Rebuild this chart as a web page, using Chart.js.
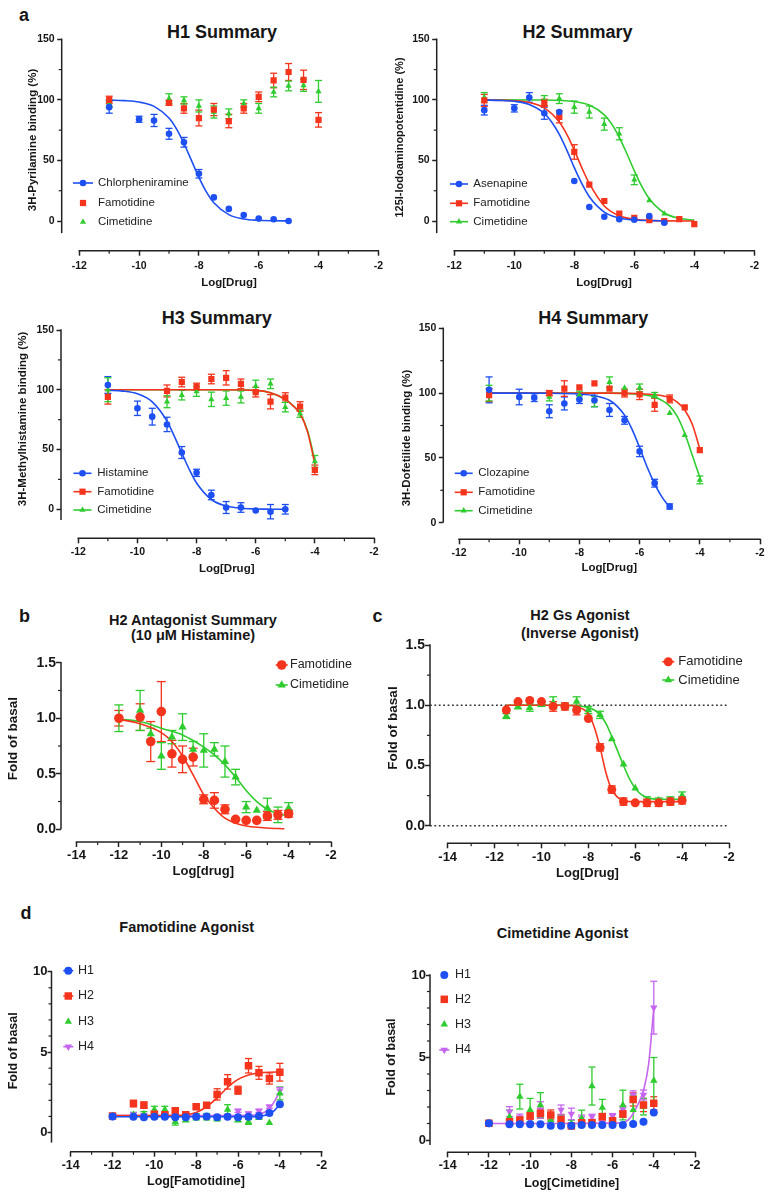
<!DOCTYPE html>
<html>
<head>
<meta charset="utf-8">
<script src="https://cdn.jsdelivr.net/npm/chart.js@4.4.1/dist/chart.umd.min.js"></script>
<style>
  body { margin: 0; background: #fff; overflow: hidden; }
  #page { position: relative; width: 770px; height: 1199px; font-family: Arial, "Liberation Sans", Helvetica, sans-serif; }
  #page canvas { position: absolute; }
  .txt { position: absolute; font-weight: bold; color: #161616; text-align: center; white-space: pre; transform: translate(-50%, -50%); }
</style>
</head>
<body>
<div id="page"></div>
<script>
const FONT = 'Arial, "Liberation Sans", Helvetica, sans-serif';
const BLUE = '#1d4ff2', RED = '#f4341c', GREEN = '#2fcc2f', PURPLE = '#c665ef', AXIS = '#222';

// tick values
const hXTicks = [-12, -10, -8, -6, -4, -2];
const hXMinor = [-11, -9, -7, -5, -3];
const hYTicks = [0, 50, 100, 150];
const hYMinor = [25, 75, 125];
const wXTicks = [-14, -12, -10, -8, -6, -4, -2];
const wXMinor = [-13, -11, -9, -7, -5, -3];
const fYTicks = [0, 0.5, 1, 1.5];
const fYMinor = [0.25, 0.75, 1.25];
const dYTicks = [0, 5, 10];
const dYMinor = [1, 2, 3, 4, 6, 7, 8, 9];
const cRefLevels = [1, 0];

// a - H1
const h1ChlorX = [-11, -10, -9.5, -9, -8.5, -8, -7.5, -7, -6.5, -6, -5.5, -5];
const h1ChlorY = [94, 84, 83, 72, 65, 39, 19.5, 10, 5, 2, 1.5, 0];
const h1ChlorErr = [5, 2.5, 5, 4.5, 4, 3.5, 0, 0, 0, 0, 0, 0];
const h1ChlorFitX = [-11, -10.5, -10, -9.5, -9, -8.75, -8.5, -8.25, -8, -7.75, -7.5, -7, -6.5, -6, -5.5, -5];
const h1ChlorFitY = [99.8, 99.4, 98.2, 94.6, 85, 76, 64, 50, 36, 24, 15, 5.3, 1.7, 0.6, 0.2, 0.1];
const h1AntX = [-11, -9, -8.5, -8, -7.5, -7, -6.5, -6, -5.5, -5, -4.5, -4];
const h1FamoY = [100, 97.5, 93, 85, 92, 82.5, 93, 102.5, 116, 123, 116.5, 83.5];
const h1FamoErr = [3, 2, 4, 6.5, 5, 5.5, 4, 4, 6, 7, 8, 6];
const h1CimeY = [97, 101, 99.5, 95, 90, 88.5, 97, 93, 106.5, 111.5, 112, 107];
const h1CimeErr = [3, 4, 3, 5, 5, 4, 3, 4, 4, 4, 5, 9];

// a - H2
const h2AsenX = [-11, -10, -9.5, -9, -8.5, -8, -7.5, -7, -6.5, -6, -5.5, -5];
const h2AsenY = [91.5, 93, 102, 89, 90, 33, 11.5, 3.5, 1.5, 1, 4, -1.5];
const h2AsenErr = [4, 3, 4, 5, 0, 0, 0, 0, 0, 0, 0, 0];
const h2AsenFitX = [-11, -10.5, -10, -9.5, -9, -8.75, -8.5, -8.25, -8, -7.75, -7.5, -7, -6.5, -6, -5.5, -5];
const h2AsenFitY = [99.9, 99.6, 98.8, 96.2, 88.8, 81.5, 71.5, 58.5, 44, 30.9, 20, 7.4, 2.5, 0.8, 0.3, 0.1];
const h2FamoX = [-11, -9, -8.5, -8, -7.5, -7, -6.5, -6, -5.5, -5, -4.5, -4];
const h2FamoY = [99.5, 97.5, 86, 57, 30, 16.5, 6, 2.5, 0.8, 0, 1.6, -2.5];
const h2FamoErr = [5, 3, 5, 6, 0, 0, 0, 0, 0, 0, 0, 0];
const h2FamoFitX = [-11, -10, -9.5, -9, -8.5, -8.25, -8, -7.75, -7.5, -7, -6.5, -6, -5, -4];
const h2FamoFitY = [99.9, 99.3, 97.8, 93.4, 81.7, 71.5, 58.5, 44, 31, 12.4, 4.3, 1.4, 0.1, 0];
const h2CimeX = [-11, -9, -8.5, -8, -7.5, -7, -6.5, -6, -5.5, -5];
const h2CimeY = [102, 99.5, 101, 94, 90, 80, 72, 34, 17, 6];
const h2CimeErr = [4, 4, 4, 5, 5, 5, 5, 4, 0, 0];
const h2CimeFitX = [-11, -9, -8, -7.5, -7, -6.75, -6.5, -6.25, -6, -5.75, -5.5, -5, -4.5, -4];
const h2CimeFitY = [100, 99.9, 98.6, 95.7, 87.6, 80, 69, 55.7, 41.5, 28.5, 18.3, 6.6, 2.2, 0.7];

// a - H3
const h3HistX = [-11, -10, -9.5, -9, -8.5, -8, -7.5, -7, -6.5, -6, -5.5, -5];
const h3HistY = [104, 84.5, 77.5, 71, 47.5, 30.5, 12, 1.5, 1.5, -1, -2, 0];
const h3HistErr = [7, 6, 7, 6, 5, 3, 4, 5, 4, 0, 6, 4];
const h3HistFitX = [-11, -10.5, -10, -9.5, -9, -8.75, -8.5, -8.25, -8, -7.5, -7, -6.5, -6, -5.5, -5];
const h3HistFitY = [99.6, 98.9, 96.6, 89.9, 73.8, 61, 47, 33.5, 22, 8.2, 2.7, 0.9, 0.3, 0.1, 0];
const h3AntX = [-11, -9, -8.5, -8, -7.5, -7, -6.5, -6, -5.5, -5, -4.5, -4];
const h3FamoY = [94, 99, 106.5, 102.5, 109, 110, 105, 98, 90, 93.5, 86, 33];
const h3FamoErr = [6, 5, 4, 3, 4, 6, 4, 4, 6, 4, 4, 4];
const h3CimeY = [100, 90, 95.5, 98.5, 92, 93, 94, 103, 105, 85.5, 80, 40];
const h3CimeErr = [10, 5, 4, 4, 6, 6, 5, 5, 4, 4, 3, 5];
const h3AntFitX = [-11, -10, -9, -8, -7, -6, -5.5, -5, -4.75, -4.5, -4.25, -4];
const h3FamoFitY = [100, 100, 100, 100, 100, 99.5, 97.5, 92, 87, 80, 65, 38];
const h3CimeFitY = [100, 100, 100, 100, 100, 99.5, 97.5, 92, 87, 80, 66, 41];

// a - H4
const h4ClozX = [-11, -10, -9.5, -9, -8.5, -8, -7.5, -7, -6.5, -6, -5.5, -5];
const h4ClozY = [102.5, 97, 96.5, 86, 92, 95, 94.5, 87, 79, 55, 30.5, 12.5];
const h4ClozErr = [10, 6, 3, 5, 5, 3, 5, 5, 3, 4, 3, 2];
const h4ClozFitX = [-11, -10, -9, -8, -7.5, -7, -6.75, -6.5, -6.25, -6, -5.75, -5.5, -5.25, -5];
const h4ClozFitY = [100, 100, 99.9, 99.2, 98, 94.5, 90, 83, 72, 58, 43, 30, 19.5, 12];
const h4FamoX = [-11, -9, -8.5, -8, -7.5, -7, -6.5, -6, -5.5, -5, -4.5, -4];
const h4FamoY = [98.5, 100, 103.5, 104.5, 107.5, 103.5, 100, 99, 91, 95.5, 89, 56];
const h4FamoErr = [5, 2, 6, 0, 0, 0, 3, 4, 5, 3, 0, 0];
const h4CimeX = [-11, -9, -8, -7.5, -7, -6.5, -6, -5.5, -5, -4.5, -4];
const h4CimeY = [100, 97, 98.5, 93.5, 108.5, 104, 104, 98.5, 84.5, 67.5, 33];
const h4CimeErr = [6, 3, 3, 4, 4, 0, 3, 2, 0, 0, 3];
const h4AntFitX = [-11, -9, -7, -6, -5.5, -5, -4.75, -4.5, -4.25, -4];
const h4FamoFitY = [100, 100, 100, 99.6, 98.8, 96.5, 93, 87, 76, 57];
const h4CimeFitY = [100, 100, 100, 99, 97, 90, 82, 69, 52, 35];

// b - H2 antagonist
const bX = [-12, -11, -10.5, -10, -9.5, -9, -8.5, -8, -7.5, -7, -6.5, -6, -5.5, -5, -4.5, -4];
const bFamoY = [1.0, 1.01, 0.79, 1.06, 0.68, 0.63, 0.65, 0.27, 0.26, 0.18, 0.09, 0.08, 0.08, 0.12, 0.13, 0.14];
const bFamoErr = [0.07, 0.12, 0.18, 0.27, 0.12, 0.12, 0.08, 0.04, 0.07, 0.04, 0, 0, 0, 0.04, 0.04, 0.03];
const bCimeY = [1.0, 1.07, 0.86, 0.66, 0.83, 0.92, 0.72, 0.71, 0.72, 0.61, 0.47, 0.2, 0.17, 0.19, 0.13, 0.19];
const bCimeErr = [0.12, 0.18, 0.05, 0.12, 0.06, 0.12, 0.07, 0.15, 0.06, 0.14, 0.07, 0.05, 0, 0.09, 0.07, 0.05];
const bFamoFitX = [-12, -11, -10, -9.5, -9, -8.5, -8, -7.5, -7, -6.5, -6, -5, -4.2];
const bFamoFitY = [0.99, 0.95, 0.87, 0.79, 0.66, 0.49, 0.31, 0.19, 0.1, 0.055, 0.03, 0.012, 0.005];
const bCimeFitX = [-12, -11, -10, -9, -8.5, -8, -7.5, -7, -6.5, -6, -5.5, -5, -4.5, -4];
const bCimeFitY = [0.99, 0.97, 0.91, 0.85, 0.8, 0.74, 0.67, 0.58, 0.47, 0.35, 0.25, 0.18, 0.14, 0.12];

// c - H2 Gs inverse agonist
const cX = [-11.5, -11, -10.5, -10, -9.5, -9, -8.5, -8, -7.5, -7, -6.5, -6, -5.5, -5, -4.5, -4];
const cFamoY = [0.96, 1.03, 1.04, 1.03, 0.99, 0.99, 0.96, 0.89, 0.65, 0.3, 0.2, 0.19, 0.19, 0.19, 0.2, 0.21];
const cFamoErr = [0, 0, 0, 0, 0.04, 0.03, 0.04, 0, 0.03, 0.03, 0.03, 0, 0.03, 0.03, 0.03, 0.03];
const cCimeY = [0.91, 0.99, 0.98, 1.01, 1.02, 0.99, 1.03, 0.96, 0.92, 0.72, 0.51, 0.31, 0.21, 0.21, 0.21, 0.25];
const cCimeErr = [0.02, 0.02, 0.03, 0.02, 0.05, 0.02, 0.04, 0.03, 0.03, 0, 0, 0, 0.03, 0.02, 0.03, 0.03];
const cFamoFitX = [-11.5, -9, -8.5, -8.25, -8, -7.75, -7.5, -7.25, -7, -6.75, -6.5, -6, -5, -4];
const cFamoFitY = [1.0, 1.0, 0.99, 0.97, 0.93, 0.82, 0.65, 0.44, 0.3, 0.235, 0.21, 0.2, 0.2, 0.2];
const cCimeFitX = [-11.5, -9, -8, -7.75, -7.5, -7.25, -7, -6.75, -6.5, -6.25, -6, -5.75, -5.5, -5, -4];
const cCimeFitY = [1.0, 1.0, 0.98, 0.96, 0.92, 0.85, 0.74, 0.62, 0.5, 0.39, 0.31, 0.26, 0.235, 0.22, 0.22];

// d - agonist mode
const dX = [-12, -11, -10.5, -10, -9.5, -9, -8.5, -8, -7.5, -7, -6.5, -6, -5.5, -5, -4.5, -4];
const dFamoH1 = [1.0, 0.98, 0.95, 0.98, 0.98, 0.95, 0.95, 0.98, 1.0, 0.95, 0.98, 0.95, 0.98, 1.02, 1.22, 1.76];
const dFamoH2 = [1.02, 1.8, 1.7, 1.14, 1.1, 1.35, 1.1, 1.6, 1.7, 2.37, 3.15, 2.63, 4.15, 3.71, 3.36, 3.75];
const dFamoH2Err = [0, 0.2, 0.2, 0.15, 0.1, 0.15, 0.1, 0.1, 0.1, 0.35, 0.45, 0.25, 0.45, 0.4, 0.35, 0.55];
const dFamoH3 = [1.0, 1.1, 1.15, 1.43, 1.43, 0.66, 0.77, 0.98, 0.98, 0.87, 1.43, 0.77, 0.66, 0.93, 0.6, 2.43];
const dFamoH3Err = [0, 0.15, 0.15, 0.2, 0.2, 0.2, 0.1, 0.2, 0.2, 0.15, 0.3, 0.1, 0.15, 0.1, 0, 0.4];
const dFamoH4 = [1.0, 1.14, 1.08, 1.05, 1.1, 1.0, 1.05, 1.0, 1.0, 1.0, 1.0, 1.35, 1.18, 1.35, 1.6, 2.6];
const dFamoH4Err = [0, 0.1, 0.1, 0.1, 0.1, 0.1, 0.1, 0, 0, 0, 0, 0.1, 0.1, 0.1, 0.1, 0.2];
const dFamoH1FitX = [-12, -10, -8, -6, -5, -4.75, -4.5, -4.25, -4];
const dFamoH1FitY = [0.98, 0.98, 0.98, 0.98, 1.0, 1.06, 1.17, 1.38, 1.76];
const dFamoH2FitX = [-12, -10, -9, -8.5, -8, -7.5, -7, -6.5, -6, -5.5, -5, -4.5, -4];
const dFamoH2FitY = [1.05, 1.05, 1.06, 1.1, 1.25, 1.6, 2.15, 2.8, 3.3, 3.58, 3.7, 3.75, 3.77];
const dFamoH4FitX = [-12, -10, -8, -6, -5, -4.75, -4.5, -4.25, -4];
const dFamoH4FitY = [1.05, 1.05, 1.05, 1.06, 1.12, 1.25, 1.5, 1.95, 2.6];

const dCimeH1 = [1.01, 0.95, 0.95, 0.95, 0.95, 0.87, 0.87, 0.87, 0.91, 0.91, 0.91, 0.91, 0.91, 0.97, 1.11, 1.66];
const dCimeH2 = [1.01, 1.11, 1.21, 1.45, 1.62, 1.52, 1.25, 0.85, 1.05, 1.05, 1.41, 1.17, 1.58, 2.46, 2.12, 2.22];
const dCimeH2Err = [0, 0.15, 0.15, 0.2, 0.3, 0.3, 0.3, 0.1, 0.1, 0.1, 0.2, 0.1, 0.2, 0.4, 0.4, 0.4];
const dCimeH3 = [1.0, 1.41, 2.63, 1.82, 2.12, 1.2, 1.2, 1.0, 1.31, 3.27, 1.96, 1.11, 2.12, 1.82, 2.02, 3.6];
const dCimeH3Err = [0, 0.4, 0.75, 0.7, 0.75, 0.3, 0.3, 0.2, 0.5, 1.15, 0.5, 0.2, 0.9, 0.9, 0.5, 1.4];
const dCimeH4 = [1.0, 1.72, 1.37, 1.21, 1.82, 1.31, 1.82, 1.58, 1.31, 1.41, 1.21, 1.45, 1.86, 2.73, 2.73, 8.02];
const dCimeH4Err = [0, 0.3, 0.2, 0.2, 0.5, 0.2, 0.3, 0.35, 0.2, 0.15, 0.1, 0.15, 0.2, 0.25, 0.3, 1.6];
const dCimeH4FitX = [-12, -10, -8, -6, -5.5, -5.25, -5, -4.75, -4.5, -4.25, -4];
const dCimeH4FitY = [1.0, 1.0, 1.0, 1.02, 1.05, 1.2, 1.6, 2.2, 3.0, 4.6, 8.0];

// series helper: label, x, y, err, colour, marker, radius, fit x/y, line in legend, rotation
function S(label, x, y, err, color, style, r, fitX, fitY, legLine, rot) {
  return { label, x, y, err, color, style, r, fitX, fitY, legLine, rot: rot || 0 };
}

const panels = [
  { axisX: 61.7, topPx: 39.3, axisY: 250.7, yLoPx: 221, xFromPx: 79.3, xToPx: 378.3,
    xFrom: -12, xTo: -2, yLo: 0, yHi: 150, yEnd: -10, xTicks: hXTicks, xMinor: hXMinor, yTicks: hYTicks, yMinor: hYMinor,
    yDec: 0, xFont: 10.5, yFont: 10.5, xPad: 4, yPad: 2.5, tick: 4.5, cap: 3.5,
    xTitle: ['Log[Drug]', 229, 283, 11.5], yTitle: ['3H-Pyrilamine binding (%)', 33, 140, 11.5],
    legend: { x: 83, ys: [183, 203, 222], half: 10, textX: 98, size: 11.5 },
    series: [
      S('Chlorpheniramine', h1ChlorX, h1ChlorY, h1ChlorErr, BLUE, 'circle', 3.3, h1ChlorFitX, h1ChlorFitY, true),
      S('Famotidine', h1AntX, h1FamoY, h1FamoErr, RED, 'rect', 4.4, null, null, false),
      S('Cimetidine', h1AntX, h1CimeY, h1CimeErr, GREEN, 'triangle', 3.6, null, null, false)
    ] },
  { axisX: 436.7, topPx: 39.3, axisY: 250.7, yLoPx: 221, xFromPx: 454.3, xToPx: 754.3,
    xFrom: -12, xTo: -2, yLo: 0, yHi: 150, yEnd: -10, xTicks: hXTicks, xMinor: hXMinor, yTicks: hYTicks, yMinor: hYMinor,
    yDec: 0, xFont: 10.5, yFont: 10.5, xPad: 4, yPad: 2.5, tick: 4.5, cap: 3.5,
    xTitle: ['Log[Drug]', 604, 283.3, 11.5], yTitle: ['125I-Iodoaminopotentidine (%)', 400, 137.5, 11],
    legend: { x: 459, ys: [184, 203.3, 221.7], half: 9, textX: 473.3, size: 11.5 },
    series: [
      S('Asenapine', h2AsenX, h2AsenY, h2AsenErr, BLUE, 'circle', 3.3, h2AsenFitX, h2AsenFitY, true),
      S('Famotidine', h2FamoX, h2FamoY, h2FamoErr, RED, 'rect', 4.4, h2FamoFitX, h2FamoFitY, true),
      S('Cimetidine', h2CimeX, h2CimeY, h2CimeErr, GREEN, 'triangle', 3.6, h2CimeFitX, h2CimeFitY, true)
    ] },
  { axisX: 61, topPx: 330, axisY: 538.3, yLoPx: 509.3, xFromPx: 78.3, xToPx: 374,
    xFrom: -12, xTo: -2, yLo: 0, yHi: 150, yEnd: -9, xTicks: hXTicks, xMinor: hXMinor, yTicks: hYTicks, yMinor: hYMinor,
    yDec: 0, xFont: 10.5, yFont: 10.5, xPad: 3, yPad: 2.5, tick: 4.5, cap: 3.5,
    xTitle: ['Log[Drug]', 226.7, 569.3, 11.5], yTitle: ['3H-Methylhistamine binding (%)', 23.3, 419, 11.5],
    legend: { x: 82.5, ys: [473.3, 491.7, 510], half: 9, textX: 97.3, size: 11.5 },
    series: [
      S('Histamine', h3HistX, h3HistY, h3HistErr, BLUE, 'circle', 3.3, h3HistFitX, h3HistFitY, true),
      S('Famotidine', h3AntX, h3FamoY, h3FamoErr, RED, 'rect', 4.4, h3AntFitX, h3FamoFitY, true),
      S('Cimetidine', h3AntX, h3CimeY, h3CimeErr, GREEN, 'triangle', 3.6, h3AntFitX, h3CimeFitY, true)
    ] },
  { axisX: 443.3, topPx: 328.3, axisY: 539.3, yLoPx: 522.7, xFromPx: 459, xToPx: 760,
    xFrom: -12, xTo: -2, yLo: 0, yHi: 150, yEnd: 0, xTicks: hXTicks, xMinor: hXMinor, yTicks: hYTicks, yMinor: hYMinor,
    yDec: 0, xFont: 10.5, yFont: 10.5, xPad: 3, yPad: 2.5, tick: 4.5, cap: 3.5,
    xTitle: ['Log[Drug]', 609.2, 568.3, 11.5], yTitle: ['3H-Dofetilide binding (%)', 406.7, 438, 11.5],
    legend: { x: 463.7, ys: [473.3, 492.3, 510.7], half: 9, textX: 478.3, size: 11.5 },
    series: [
      S('Clozapine', h4ClozX, h4ClozY, h4ClozErr, BLUE, 'circle', 3.3, h4ClozFitX, h4ClozFitY, true),
      S('Famotidine', h4FamoX, h4FamoY, h4FamoErr, RED, 'rect', 4.4, h4AntFitX, h4FamoFitY, true),
      S('Cimetidine', h4CimeX, h4CimeY, h4CimeErr, GREEN, 'triangle', 3.6, h4AntFitX, h4CimeFitY, true)
    ] },
  { axisX: 61, topPx: 662.7, axisY: 842, yLoPx: 829.3, xFromPx: 76.5, xToPx: 331,
    xFrom: -14, xTo: -2, yLo: 0, yHi: 1.5, yEnd: 0, xTicks: wXTicks, xMinor: wXMinor, yTicks: fYTicks, yMinor: fYMinor,
    yDec: 1, xFont: 13, yFont: 14, xPad: 1, yPad: 0, tick: 5, cap: 4.5,
    xTitle: ['Log[drug]', 203.3, 871.7, 13], yTitle: ['Fold of basal', 13.3, 738.7, 13.5],
    legend: { x: 281.7, ys: [665, 685], half: 6, textX: 290, size: 12.5 },
    series: [
      S('Famotidine', bX, bFamoY, bFamoErr, RED, 'circle', 4.8, bFamoFitX, bFamoFitY, true),
      S('Cimetidine', bX, bCimeY, bCimeErr, GREEN, 'triangle', 4.8, bCimeFitX, bCimeFitY, true)
    ] },
  { axisX: 430, topPx: 645, axisY: 843.3, yLoPx: 825.7, xFromPx: 447.7, xToPx: 729,
    xFrom: -14, xTo: -2, yLo: 0, yHi: 1.5, yEnd: 0, xTicks: wXTicks, xMinor: wXMinor, yTicks: fYTicks, yMinor: fYMinor,
    yDec: 1, xFont: 13, yFont: 14, xPad: 1, yPad: 0, tick: 5, cap: 4, refLines: cRefLevels,
    xTitle: ['Log[Drug]', 587.5, 873.3, 13], yTitle: ['Fold of basal', 393.3, 728, 13.5],
    legend: { x: 668.3, ys: [661.7, 680], half: 6, textX: 678.3, size: 13 },
    series: [
      S('Famotidine', cX, cFamoY, cFamoErr, RED, 'circle', 4.5, cFamoFitX, cFamoFitY, true),
      S('Cimetidine', cX, cCimeY, cCimeErr, GREEN, 'triangle', 4.5, cCimeFitX, cCimeFitY, true)
    ] },
  { axisX: 51.5, topPx: 971.7, axisY: 1151.7, yLoPx: 1132.5, xFromPx: 70.7, xToPx: 321.7,
    xFrom: -14, xTo: -2, yLo: 0, yHi: 10, yEnd: -0.63, xTicks: wXTicks, xMinor: wXMinor, yTicks: dYTicks, yMinor: dYMinor,
    yDec: 0, xFont: 12.5, yFont: 13, xPad: 1, yPad: 0, tick: 4, cap: 3.5,
    xTitle: ['Log[Famotidine]', 196, 1181.7, 12.5], yTitle: ['Fold of basal', 13.3, 1050.8, 12.5],
    legend: { x: 68.3, ys: [970.7, 996, 1021.7, 1046.7], half: 5, textX: 78, size: 12.5 },
    series: [
      S('H1', dX, dFamoH1, null, BLUE, 'circle', 4, dFamoH1FitX, dFamoH1FitY, true),
      S('H2', dX, dFamoH2, dFamoH2Err, RED, 'rect', 5.3, dFamoH2FitX, dFamoH2FitY, true),
      S('H3', dX, dFamoH3, dFamoH3Err, GREEN, 'triangle', 4.3, null, null, false),
      S('H4', dX, dFamoH4, dFamoH4Err, PURPLE, 'triangle', 4.3, dFamoH4FitX, dFamoH4FitY, true, 180)
    ] },
  { axisX: 430, topPx: 975, axisY: 1152.3, yLoPx: 1140, xFromPx: 447.7, xToPx: 695,
    xFrom: -14, xTo: -2, yLo: 0, yHi: 10, yEnd: -0.3, xTicks: wXTicks, xMinor: wXMinor, yTicks: dYTicks, yMinor: dYMinor,
    yDec: 0, xFont: 12.5, yFont: 13, xPad: 1, yPad: 0, tick: 4, cap: 3.5,
    xTitle: ['Log[Cimetidine]', 571.7, 1183.3, 12.5], yTitle: ['Fold of basal', 392, 1057, 12.5],
    legend: { x: 444.3, ys: [975, 999.3, 1024.3, 1050], half: 5, textX: 455, size: 12.5 },
    series: [
      S('H1', dX, dCimeH1, null, BLUE, 'circle', 4, null, null, false),
      S('H2', dX, dCimeH2, dCimeH2Err, RED, 'rect', 5.3, null, null, false),
      S('H3', dX, dCimeH3, dCimeH3Err, GREEN, 'triangle', 4.3, null, null, false),
      S('H4', dX, dCimeH4, dCimeH4Err, PURPLE, 'triangle', 4.3, dCimeH4FitX, dCimeH4FitY, true, 180)
    ] }
];

const pageTexts = [
  ['a', 24, 15, 18], ['H1 Summary', 222, 32, 18], ['H2 Summary', 577.5, 32, 18],
  ['H3 Summary', 216.7, 318.3, 18], ['H4 Summary', 593.3, 318.3, 18],
  ['b', 24.5, 616, 18], ['H2 Antagonist Summary\n(10 \u03bcM Histamine)', 193, 627.5, 14.5, 15],
  ['c', 377.5, 616, 18], ['H2 Gs Agonist\n(Inverse Agonist)', 580, 624, 14.5, 18],
  ['d', 26, 912.5, 18], ['Famotidine Agonist', 186.7, 926.7, 14.5], ['Cimetidine Agonist', 562.5, 933.3, 14.5]
];

const page = document.getElementById('page');
Chart.defaults.font.family = FONT;

pageTexts.forEach(t => {
  const d = document.createElement('div');
  d.className = 'txt';
  d.textContent = t[0];
  d.style.left = t[1] + 'px';
  d.style.top = t[2] + 'px';
  d.style.fontSize = t[3] + 'px';
  d.style.lineHeight = (t[4] || t[3] * 1.15) + 'px';
  page.appendChild(d);
});

function pts(xs, ys) { return xs.map((x, i) => ({ x: x, y: ys[i] })); }

function marker(ctx, style, x, y, r, rot, color) {
  ctx.fillStyle = color;
  ctx.beginPath();
  if (style === 'circle') {
    ctx.arc(x, y, r, 0, Math.PI * 2);
  } else if (style === 'rect') {
    const h = r * Math.SQRT1_2;
    ctx.rect(x - h, y - h, 2 * h, 2 * h);
  } else {
    const s = rot ? -1 : 1;
    ctx.moveTo(x, y - s * r);
    ctx.lineTo(x + r * 0.866, y + s * r / 2);
    ctx.lineTo(x - r * 0.866, y + s * r / 2);
    ctx.closePath();
  }
  ctx.fill();
}

function gpPlugin(p) {
  const seg = (ctx, x1, y1, x2, y2) => { ctx.beginPath(); ctx.moveTo(x1, y1); ctx.lineTo(x2, y2); ctx.stroke(); };
  return {
    id: 'gp',
    beforeDatasetsDraw(chart) {
      const ctx = chart.ctx, xs = chart.scales.x, ys = chart.scales.y, ca = chart.chartArea;
      ctx.save();
      (p.refLines || []).forEach(v => {
        ctx.strokeStyle = '#333'; ctx.lineWidth = 1.6; ctx.setLineDash([1.8, 2.6]);
        const y = ys.getPixelForValue(v);
        seg(ctx, ca.left, y, xs.getPixelForValue(p.xTo), y);
      });
      ctx.setLineDash([]);
      p.series.forEach(s => {
        if (!s.err) return;
        ctx.strokeStyle = s.color; ctx.lineWidth = 1.3;
        s.x.forEach((xv, i) => {
          const e = s.err[i];
          if (!e) return;
          const px = xs.getPixelForValue(xv);
          const y1 = ys.getPixelForValue(s.y[i] + e), y2 = ys.getPixelForValue(s.y[i] - e);
          seg(ctx, px, y1, px, y2);
          seg(ctx, px - p.cap, y1, px + p.cap, y1);
          seg(ctx, px - p.cap, y2, px + p.cap, y2);
        });
      });
      ctx.restore();
    },
    afterDraw(chart) {
      const ctx = chart.ctx, xs = chart.scales.x, ys = chart.scales.y, ca = chart.chartArea;
      ctx.save();
      ctx.strokeStyle = AXIS; ctx.lineWidth = 1.5;
      seg(ctx, ca.left, ys.getPixelForValue(p.yHi) - 0.75, ca.left, ys.getPixelForValue(p.yEnd));
      seg(ctx, xs.getPixelForValue(p.xFrom) - 0.75, ca.bottom, xs.getPixelForValue(p.xTo) + 0.75, ca.bottom);
      ctx.lineWidth = 1.2;
      p.xMinor.forEach(v => { const x = xs.getPixelForValue(v); seg(ctx, x, ca.bottom, x, ca.bottom + 3); });
      p.yMinor.forEach(v => { const y = ys.getPixelForValue(v); seg(ctx, ca.left - 3, y, ca.left, y); });

      // axis titles
      ctx.fillStyle = '#161616';
      ctx.textAlign = 'center'; ctx.textBaseline = 'middle';
      ctx.font = 'bold ' + p.xTitle[3] + 'px ' + FONT;
      ctx.fillText(p.xTitle[0], p.xTitle[1] - p.cl, p.xTitle[2] - p.ct);
      ctx.save();
      ctx.translate(p.yTitle[1] - p.cl, p.yTitle[2] - p.ct);
      ctx.rotate(-Math.PI / 2);
      ctx.font = 'bold ' + p.yTitle[3] + 'px ' + FONT;
      ctx.fillText(p.yTitle[0], 0, 0);
      ctx.restore();

      // legend
      const L = p.legend;
      ctx.font = L.size + 'px ' + FONT;
      ctx.textAlign = 'left';
      p.series.forEach((s, i) => {
        const x = L.x - p.cl, y = L.ys[i] - p.ct;
        if (s.legLine) {
          ctx.strokeStyle = s.color; ctx.lineWidth = 1.6;
          seg(ctx, x - L.half, y, x + L.half, y);
        }
        marker(ctx, s.style, x, y, s.r, s.rot, s.color);
        ctx.fillStyle = '#222';
        ctx.fillText(s.label, L.textX - p.cl, y);
      });
      ctx.restore();
    }
  };
}

panels.forEach(p => {
  const cl = Math.max(0, Math.round(p.axisX - 62));
  const ct = Math.round(p.topPx - 22);
  const cr = Math.min(770, Math.round(Math.max(p.xToPx + 16, p.legend.textX + 80)));
  const cb = Math.min(1199, Math.round(p.axisY + 46));
  p.cl = cl; p.ct = ct;
  const canvas = document.createElement('canvas');
  canvas.width = cr - cl;
  canvas.height = cb - ct;
  canvas.style.left = cl + 'px';
  canvas.style.top = ct + 'px';
  page.appendChild(canvas);

  const xmin = p.xFrom - (p.xFromPx - p.axisX) * (p.xTo - p.xFrom) / (p.xToPx - p.xFromPx);
  const ymin = p.yLo - (p.axisY - p.yLoPx) * (p.yHi - p.yLo) / (p.yLoPx - p.topPx);

  const datasets = [];
  p.series.forEach(s => {
    datasets.push({
      type: 'scatter', label: s.label, data: pts(s.x, s.y), showLine: false, order: 1,
      borderColor: s.color, backgroundColor: s.color, pointStyle: s.style,
      pointRadius: s.r, pointRotation: s.rot, pointBorderWidth: 0
    });
    if (s.fitX) {
      datasets.push({
        type: 'line', label: s.label + ' fit', data: pts(s.fitX, s.fitY), order: 2,
        borderColor: s.color, borderWidth: 1.6, pointRadius: 0, fill: false,
        cubicInterpolationMode: 'monotone'
      });
    }
  });

  new Chart(canvas, {
    type: 'scatter',
    data: { datasets },
    options: {
      responsive: false, animation: false, devicePixelRatio: 1, events: [],
      layout: { padding: { left: 0, top: p.topPx - ct, right: cr - p.xToPx, bottom: 0 } },
      plugins: { legend: { display: false }, tooltip: { enabled: false }, title: { display: false } },
      scales: {
        x: {
          type: 'linear', min: xmin, max: p.xTo,
          afterFit: sc => { sc.height = cb - p.axisY; },
          afterBuildTicks: sc => { sc.ticks = p.xTicks.map(v => ({ value: v })); },
          border: { display: false },
          grid: { drawOnChartArea: false, drawTicks: true, tickLength: 5, tickColor: AXIS, tickWidth: 1.5 },
          ticks: { autoSkip: false, maxRotation: 0, padding: p.xPad, color: '#161616',
                   font: { size: p.xFont, weight: 'bold' }, callback: v => String(v) }
        },
        y: {
          type: 'linear', min: ymin, max: p.yHi,
          afterFit: sc => { sc.width = p.axisX - cl; },
          afterBuildTicks: sc => { sc.ticks = p.yTicks.map(v => ({ value: v })); },
          border: { display: false },
          grid: { drawOnChartArea: false, drawTicks: true, tickLength: p.tick, tickColor: AXIS, tickWidth: 1.5 },
          ticks: { padding: p.yPad, color: '#161616', font: { size: p.yFont, weight: 'bold' },
                   callback: v => Number(v).toFixed(p.yDec) }
        }
      }
    },
    plugins: [gpPlugin(p)]
  });
});
</script>
</body>
</html>
